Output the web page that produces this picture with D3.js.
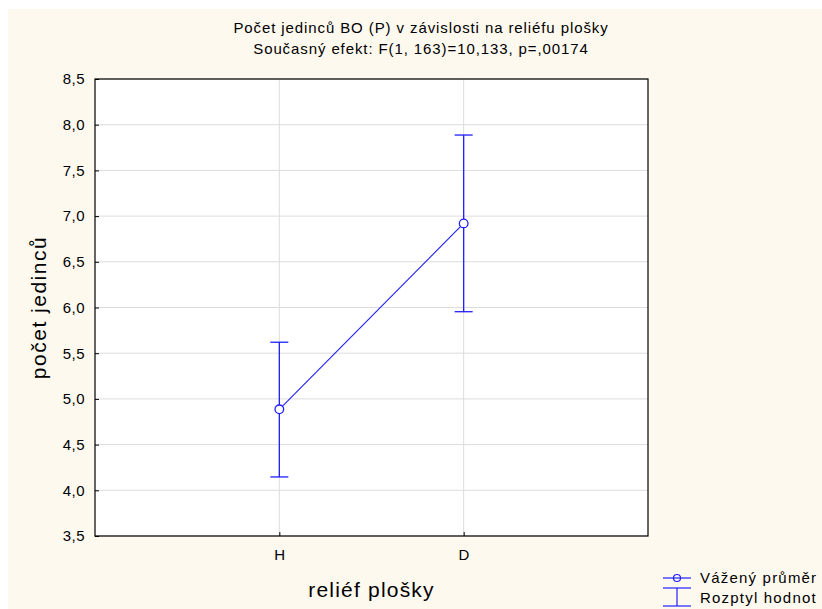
<!DOCTYPE html>
<html>
<head>
<meta charset="utf-8">
<script src="https://cdn.jsdelivr.net/npm/d3@7"></script>
<style>
  body { margin: 0; background: #fff; }
  text { font-family: "Liberation Sans", Arial, sans-serif; fill: #000; }
</style>
</head>
<body>
<svg width="822" height="609"></svg>
<script>
// data
var categories = ["H", "D"];
var means = [4.886, 6.92];
var upper = [5.62, 7.887];
var lower = [4.146, 5.954];
var yTicks = [3.5, 4.0, 4.5, 5.0, 5.5, 6.0, 6.5, 7.0, 7.5, 8.0, 8.5];

var svg = d3.select("svg");

var margin = { top: 79, right: 174, bottom: 73, left: 95 },
  width = 822 - margin.left - margin.right,
  height = 609 - margin.top - margin.bottom;

// cream background panel
svg.append("rect")
  .attr("x", 8).attr("y", 9)
  .attr("width", 814).attr("height", 600)
  .attr("fill", "#fef9ef");

var g = svg.append("g")
  .attr("transform", "translate(" + margin.left + "," + margin.top + ")");

g.append("rect")
  .attr("width", width).attr("height", height)
  .attr("fill", "#fff");

var x = d3.scalePoint().domain(categories).range([0, width]).padding(1);
var y = d3.scaleLinear().domain([3.5, 8.5]).range([height, 0]);

var fmt = function (d) { return d3.format(".1f")(d).replace(".", ","); };

// grid
g.append("g").selectAll("line")
  .data(yTicks)
  .enter().append("line")
  .attr("x1", 0).attr("x2", width)
  .attr("y1", function (d) { return y(d); })
  .attr("y2", function (d) { return y(d); })
  .attr("stroke", "#dcdcdc");

g.append("g").selectAll("line")
  .data(categories)
  .enter().append("line")
  .attr("x1", function (d) { return x(d); })
  .attr("x2", function (d) { return x(d); })
  .attr("y1", 0).attr("y2", height)
  .attr("stroke", "#dcdcdc");

// axes (ticks pointing inward)
var yAxis = g.append("g")
  .call(d3.axisLeft(y).tickValues(yTicks).tickFormat(fmt).tickSizeInner(-4).tickSizeOuter(0).tickPadding(10));
var xAxis = g.append("g")
  .attr("transform", "translate(0," + height + ")")
  .call(d3.axisBottom(x).tickSizeInner(-4).tickSizeOuter(0).tickPadding(13));
[yAxis, xAxis].forEach(function (a) {
  a.select(".domain").remove();
  a.selectAll("line").attr("stroke", "#000");
  a.selectAll("text")
    .attr("font-size", "15px")
    .style("font-family", "Liberation Sans, Arial, sans-serif")
    .style("letter-spacing", "0.5px")
    .attr("fill", "#000");
});

// frame
g.append("rect")
  .attr("width", width).attr("height", height)
  .attr("fill", "none").attr("stroke", "#000").attr("stroke-width", 1.2);

var blue = "#1f1fff";
var pts = categories.map(function (c, i) {
  return { c: c, m: means[i], hi: upper[i], lo: lower[i] };
});

// error bars
var eb = g.append("g").selectAll("g").data(pts).enter().append("g");
eb.append("line")
  .attr("x1", function (d) { return x(d.c); })
  .attr("x2", function (d) { return x(d.c); })
  .attr("y1", function (d) { return y(d.hi); })
  .attr("y2", function (d) { return y(d.lo); })
  .attr("stroke", blue).attr("stroke-width", 1.3);
["hi", "lo"].forEach(function (k) {
  eb.append("line")
    .attr("x1", function (d) { return x(d.c) - 9; })
    .attr("x2", function (d) { return x(d.c) + 9; })
    .attr("y1", function (d) { return y(d[k]); })
    .attr("y2", function (d) { return y(d[k]); })
    .attr("stroke", blue).attr("stroke-width", 1.3);
});

// mean line
g.append("path")
  .datum(pts)
  .attr("d", d3.line().x(function (d) { return x(d.c); }).y(function (d) { return y(d.m); }))
  .attr("fill", "none").attr("stroke", blue).attr("stroke-width", 1.1);

g.append("g").selectAll("circle")
  .data(pts).enter().append("circle")
  .attr("cx", function (d) { return x(d.c); })
  .attr("cy", function (d) { return y(d.m); })
  .attr("r", 4.3)
  .attr("fill", "#fff").attr("stroke", blue).attr("stroke-width", 1.3);

// titles
svg.append("text")
  .attr("x", 421).attr("y", 33)
  .attr("text-anchor", "middle").attr("font-size", "15px")
  .style("letter-spacing", "0.9px")
  .text("Počet jedinců BO (P) v závislosti na reliéfu plošky");
svg.append("text")
  .attr("x", 421).attr("y", 54)
  .attr("text-anchor", "middle").attr("font-size", "15px")
  .style("letter-spacing", "0.9px")
  .text("Současný efekt: F(1, 163)=10,133, p=,00174");

// axis titles
svg.append("text")
  .attr("x", margin.left + width / 2).attr("y", 597)
  .attr("text-anchor", "middle").attr("font-size", "21px")
  .style("letter-spacing", "1.2px")
  .text("reliéf plošky");
svg.append("text")
  .attr("transform", "translate(46," + (margin.top + height / 2) + ") rotate(-90)")
  .attr("text-anchor", "middle").attr("font-size", "21px")
  .style("letter-spacing", "1.5px")
  .text("počet jedinců");

// legend
var lg = svg.append("g");
lg.append("line").attr("x1", 663).attr("x2", 691).attr("y1", 578).attr("y2", 578)
  .attr("stroke", blue).attr("stroke-width", 1.2);
lg.append("circle").attr("cx", 677).attr("cy", 578).attr("r", 3.5)
  .attr("fill", "none").attr("stroke", blue).attr("stroke-width", 1.2);
lg.append("line").attr("x1", 663).attr("x2", 691).attr("y1", 588).attr("y2", 588)
  .attr("stroke", blue).attr("stroke-width", 1.2);
lg.append("line").attr("x1", 663).attr("x2", 691).attr("y1", 606).attr("y2", 606)
  .attr("stroke", blue).attr("stroke-width", 1.2);
lg.append("line").attr("x1", 677).attr("x2", 677).attr("y1", 588).attr("y2", 606)
  .attr("stroke", blue).attr("stroke-width", 1.2);
lg.append("text").attr("x", 700).attr("y", 583).attr("font-size", "15px")
  .style("letter-spacing", "1.2px").text("Vážený průměr");
lg.append("text").attr("x", 700).attr("y", 603).attr("font-size", "15px")
  .style("letter-spacing", "1.2px").text("Rozptyl hodnot");
</script>
</body>
</html>
